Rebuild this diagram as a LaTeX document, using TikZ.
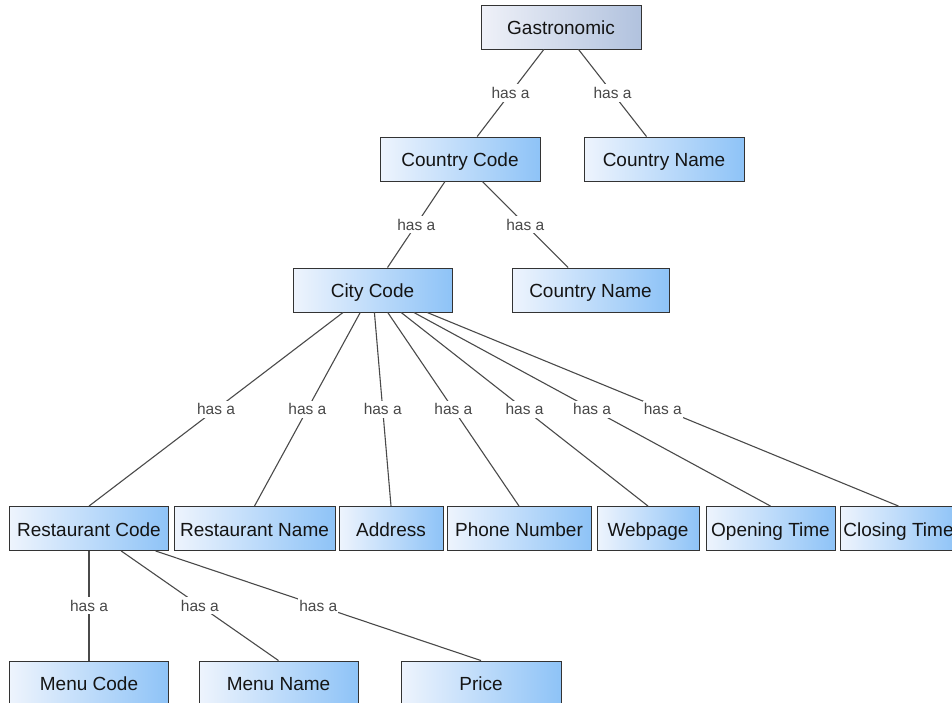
\documentclass[tikz,border=0pt]{standalone}
\usepackage{fontspec}
\setmainfont{Liberation Sans}
\definecolor{boxleft}{HTML}{EEF4FD}
\definecolor{boxright}{HTML}{8EC3F7}
\definecolor{gasleft}{HTML}{EFF1F8}
\definecolor{gasright}{HTML}{B1C2DE}
\definecolor{boxborder}{HTML}{333333}
\definecolor{edgecol}{HTML}{4A4A4A}
\definecolor{lblcol}{HTML}{484848}
\begin{document}
\begin{tikzpicture}[x=1pt,y=-1pt,
  box/.style={draw=boxborder, line width=0.9pt, minimum height=44pt, inner sep=0pt,
    text height=18pt, text depth=3pt,
    left color=boxleft, right color=boxright, text=black!92,
    font=\fontsize{19}{22}\selectfont},
  gastro/.style={left color=gasleft, right color=gasright},
  edge/.style={draw=edgecol, line width=1.1pt},
  lbl/.style={fill=white, inner xsep=1pt, inner ysep=3pt, text=lblcol,
    font=\fontsize{15.5}{17}\selectfont}]
\useasboundingbox (0,0) rectangle (952,702);
\clip (0,0) rectangle (952,702);
% nodes
\node[box, gastro, minimum width=160pt] (g) at (561,27) {Gastronomic};
\node[box, minimum width=160pt] (cc) at (460,159) {Country Code};
\node[box, minimum width=160pt] (cn1) at (664,159) {Country Name};
\node[box, minimum width=159pt] (city) at (372.5,290) {City Code};
\node[box, minimum width=157pt] (cn2) at (590.5,290) {Country Name};
\node[box, minimum width=159pt] (rc) at (89,528.5) {Restaurant Code};
\node[box, minimum width=161pt] (rn) at (254.5,528.5) {Restaurant Name};
\node[box, minimum width=104pt] (ad) at (391,528.5) {Address};
\node[box, minimum width=144pt] (pn) at (519,528.5) {Phone Number};
\node[box, minimum width=102pt] (wp) at (648,528.5) {Webpage};
\node[box, minimum width=129pt] (ot) at (770.5,528.5) {Opening Time};
\node[box, minimum width=117pt] (ct) at (898.5,528.5) {Closing Time};
\node[box, minimum width=159pt] (mc) at (89,683) {Menu Code};
\node[box, minimum width=159pt] (mn) at (278.5,683) {Menu Name};
\node[box, minimum width=160pt] (pr) at (481,683) {Price};
% edges
\draw[edge] (g) -- node[lbl]{has a} (cc);
\draw[edge] (g) -- node[lbl]{has a} (cn1);
\draw[edge] (cc) -- node[lbl]{has a} (city);
\draw[edge] (cc) -- node[lbl]{has a} (cn2);
\foreach \c in {rc,rn,ad,pn,wp,ot,ct}{
  \draw[edge] (city) -- node[lbl]{has a} (\c.north);
}
\foreach \c in {mc,mn,pr}{
  \draw[edge] (rc) -- node[lbl]{has a} (\c.north);
}
\end{tikzpicture}
\end{document}
